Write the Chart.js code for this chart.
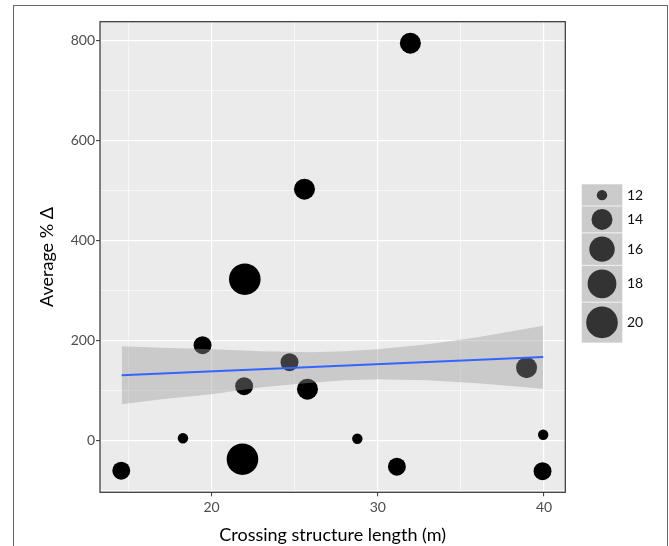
<!DOCTYPE html>
<html>
<head>
<meta charset="utf-8">
<script src="https://cdn.jsdelivr.net/npm/chart.js@4.4.1/dist/chart.umd.min.js"></script>
<style>
  body { margin: 0; background: #fff; }
  #wrap { position: relative; width: 669px; height: 546px; overflow: hidden; }
  #frame { position: absolute; left: 13px; top: 5px; width: 653px; height: 600px;
           border: 1.5px solid #666; pointer-events: none; }
</style>
</head>
<body>
<div id="wrap">
  <canvas id="lengthChart" width="669" height="546"></canvas>
  <div id="frame"></div>
</div>
<script>
// crossing structure length (m), average % change, point size value
const lengthM   = [14.57, 18.28, 19.46, 21.86, 21.96, 24.69, 25.77, 28.77, 31.15, 38.95, 39.95, 39.91, 31.96, 25.59, 22.0];
const avgDelta  = [-60, 5, 191, -37, 109, 157, 103, 4, -52, 146, 12, -61, 795, 503, 323];
const sizeValue = [13, 12, 13, 20, 13, 13, 14, 12, 13, 14, 12, 13, 14, 14, 20];

// linear fit and its confidence band
const fitX     = [14.59, 39.95];
const fitY     = [130.8, 167.4];
const bandX     = [14.59, 17, 20, 23, 26, 28, 30, 33, 36, 39.95];
const bandUpper = [189, 186, 183, 179, 177, 179, 183, 193, 207, 230];
const bandLower = [73, 83, 93, 107, 116, 121, 123, 121, 115, 104];

const xTickLabels = [20, 30, 40];
const yTickLabels = [0, 200, 400, 600, 800];
const legendSizes = [12, 14, 16, 18, 20];

// ggplot style area scale: diameter in px
function sizeToDiameter(v){
    return 10.4 + 21.2 * Math.sqrt((v - 12) / 8);
}

const bubbles = lengthM.map((x, i) => ({x: x, y: avgDelta[i], r: sizeToDiameter(sizeValue[i]) / 2}));
const fitLine = fitX.map((x, i) => ({x: x, y: fitY[i]}));
const upper = bandX.map((x, i) => ({x: x, y: bandUpper[i]}));
const lower = bandX.map((x, i) => ({x: x, y: bandLower[i]}));

const panelPlugin = {
    id: 'panel',
    beforeDraw(chart){
        const a = chart.chartArea, ctx = chart.ctx;
        ctx.save();
        ctx.fillStyle = '#EBEBEB';
        ctx.fillRect(a.left, a.top, a.right - a.left, a.bottom - a.top);
        ctx.restore();
    },
    afterDraw(chart){
        const a = chart.chartArea, ctx = chart.ctx;
        ctx.save();
        ctx.strokeStyle = '#333';
        ctx.lineWidth = 1.2;
        ctx.strokeRect(a.left, a.top, a.right - a.left, a.bottom - a.top);

        // size legend
        let top = 184.3;
        const left = 581.7, w = 40.6;
        legendSizes.forEach(function(s){
            const d = sizeToDiameter(s);
            const h = Math.max(21.7, d * 1.28);
            ctx.fillStyle = '#CBCBCB';
            ctx.fillRect(left, top, w, h);
            ctx.fillStyle = '#333';
            ctx.beginPath();
            ctx.arc(left + w / 2, top + h / 2, d / 2, 0, Math.PI * 2);
            ctx.fill();
            ctx.fillStyle = '#111';
            ctx.font = '14px Lato';
            ctx.textBaseline = 'middle';
            ctx.fillText(String(s), 627, top + h / 2);
            if (top > 185) {
                ctx.fillStyle = '#F2F2F2';
                ctx.fillRect(left, top - 0.5, w, 1);
            }
            top += h;
        });
        ctx.restore();
    }
};

function gridOpts(major){
    return {
        color: '#FFFFFF',
        lineWidth: c => major.includes(c.tick && c.tick.value) ? 1.2 : 0.6,
        tickColor: c => major.includes(c.tick && c.tick.value) ? '#333' : 'rgba(0,0,0,0)',
        tickLength: 4,
        tickWidth: 1
    };
}

new Chart("lengthChart", {
    type: "bubble",
    data: {
        datasets: [{
            type: "line",
            data: fitLine,
            borderColor: "#3366FF",
            borderWidth: 2,
            pointRadius: 0,
            fill: false,
            order: -1
        }, {
            type: "line",
            data: upper,
            borderColor: "rgba(0,0,0,0)",
            borderWidth: 0,
            pointRadius: 0,
            fill: false,
            order: 0
        }, {
            type: "line",
            data: lower,
            borderColor: "rgba(0,0,0,0)",
            borderWidth: 0,
            pointRadius: 0,
            backgroundColor: "rgba(153,153,153,0.4)",
            fill: '-1',
            order: 0
        }, {
            data: bubbles,
            backgroundColor: "#000",
            borderWidth: 0,
            hoverRadius: 0,
            order: 2
        }]
    },
    options: {
        responsive: false,
        animation: false,
        events: [],
        layout: { padding: { top: 21.7, right: 103.7, left: 0, bottom: 0 } },
        plugins: { legend: { display: false }, tooltip: { enabled: false } },
        scales: {
            x: {
                type: 'linear',
                min: 13.29, max: 41.28,
                afterFit(scale){ scale.height = 53.7; },
                grid: gridOpts(xTickLabels),
                border: { display: false },
                ticks: {
                    stepSize: 5, includeBounds: false, autoSkip: false, maxRotation: 0,
                    padding: 3, color: '#4D4D4D', font: { family: 'Lato', size: 14 },
                    callback: v => xTickLabels.includes(v) ? String(v) : ''
                },
                title: {
                    display: true, text: 'Crossing structure length (m)', color: '#000',
                    font: { family: 'Lato', size: 18 }, padding: { top: 0, bottom: 0 }
                }
            },
            y: {
                min: -103.2, max: 838,
                afterFit(scale){ scale.width = 100; },
                grid: gridOpts(yTickLabels),
                border: { display: false },
                ticks: {
                    stepSize: 100, includeBounds: false, autoSkip: false,
                    padding: 1, color: '#4D4D4D', font: { family: 'Lato', size: 14 },
                    callback: v => yTickLabels.includes(v) ? String(v) : ''
                },
                title: {
                    display: true, text: 'Average % Δ', color: '#000',
                    font: { family: 'Lato', size: 18 }, padding: { top: 36, bottom: 0 }
                }
            }
        }
    },
    plugins: [panelPlugin]
});
</script>
</body>
</html>
